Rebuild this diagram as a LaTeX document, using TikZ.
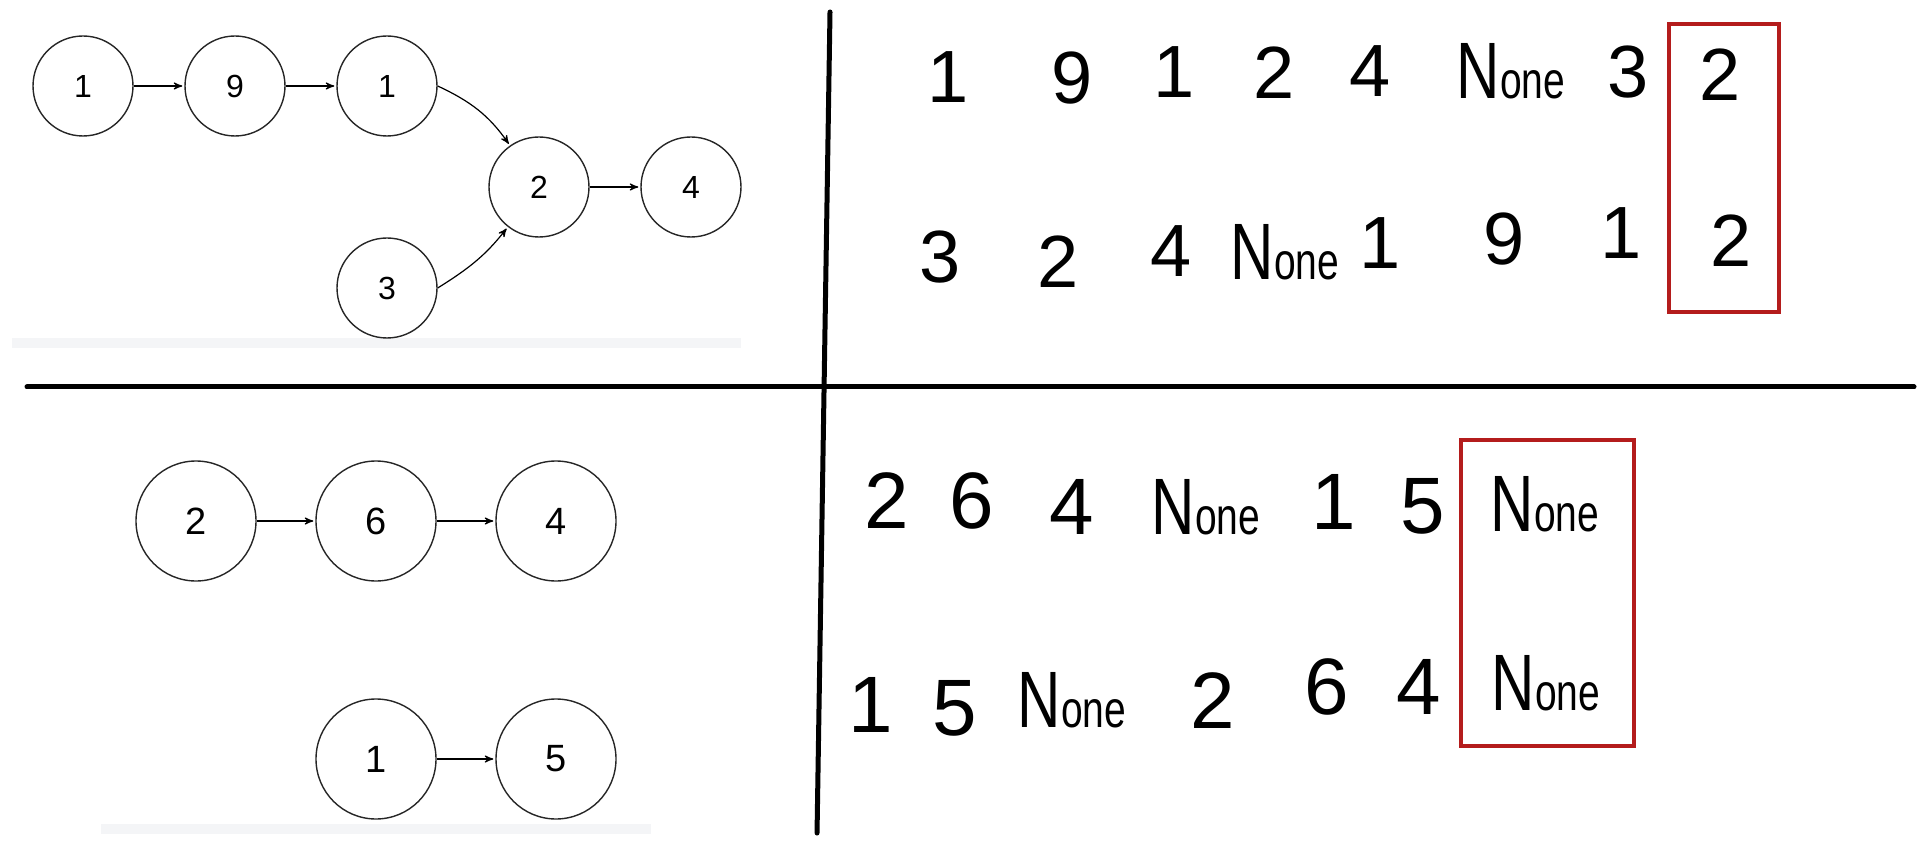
\documentclass[tikz,border=0pt]{standalone}
\usepackage{fontspec}
\setmainfont{Liberation Sans}
\usetikzlibrary{positioning, arrows}
\definecolor{boxred}{RGB}{180,28,28}
\definecolor{bargray}{RGB}{244,245,247}
\newcommand{\nonew}{\scalebox{0.75}[1]{\fontsize{40}{40}\selectfont N\fontsize{26}{26}\selectfont one}}

\begin{document}
\begin{tikzpicture}[->,>=stealth',shorten >=1pt, x=0.5pt, y=0.5pt,
                  node distance=76pt, on grid, semithick,
                  elem/.style={circle, draw=black!85, line width=0.7pt,
                    minimum size=50pt, inner sep=0pt,
                    font=\fontsize{16}{16}\selectfont},
                  bigelem/.style={elem, minimum size=60pt,
                    font=\fontsize{19}{19}\selectfont},
                  hand/.style={inner sep=0pt, font=\fontsize{40}{40}\selectfont},
                  handtop/.style={hand, font=\fontsize{37}{37}\selectfont},
                  greybar/.style={-, fill=bargray, draw=none},
                  divider/.style={-, line width=2.5pt, line cap=round},
                  pick/.style={-, draw=boxred, line width=2pt}]

                  \useasboundingbox (0,0) rectangle (1926,-844);

                  % Franjas grises bajo cada lista.
                  \fill[greybar] (12,-338) rectangle (741,-348);
                  \fill[greybar] (101,-824) rectangle (651,-834);

                  % Listas que se cruzan en el 2.
                  \node[elem] (a1) at (83,-86) {1};
                  \node[elem, right=of a1] (a2) {9};
                  \node[elem, right=of a2] (a3) {1};
                  \node[elem, below right=50.5pt and 76pt of a3] (a4) {2};
                  \node[elem, right=of a4] (a5) {4};
                  \node[elem, below=101pt of a3] (a6) {3};

                  \draw (a1) edge (a2)
                  (a2) edge (a3)
                  (a4) edge (a5);
                  \draw (a3.east) to[out=-25, in=125] (a4);
                  \draw (a6.east) to[out=32, in=-128] (a4);

                  % Listas que no se cruzan.
                  \node[bigelem] (b1) at (196,-521) {2};
                  \node[bigelem, right=90pt of b1] (b2) {6};
                  \node[bigelem, right=90pt of b2] (b3) {4};
                  \node[bigelem, below=119pt of b2] (b4) {1};
                  \node[bigelem, right=90pt of b4] (b5) {5};

                  \draw (b1) edge (b2)
                  (b2) edge (b3)
                  (b4) edge (b5);

                  % Lineas divisorias.
                  \draw[divider] (27,-387) -- (1916,-387);
                  \draw[divider] (830,-12) -- (817,-835);

                  % Recorridos del primer caso.
                  \node[handtop] (p1) at (948,-77) {1};
                  \node[handtop] (p2) at (1072,-78) {9};
                  \node[handtop] (p3) at (1174,-72) {1};
                  \node[handtop] (p4) at (1274,-73) {2};
                  \node[handtop] (p5) at (1370,-71) {4};
                  \node[handtop] (p6) at (1511,-71) {\nonew};
                  \node[handtop] (p7) at (1628,-72) {3};
                  \node[handtop] (p8) at (1720,-75) {2};

                  \node[handtop] (q1) at (940,-257) {3};
                  \node[handtop] (q2) at (1058,-262) {2};
                  \node[handtop] (q3) at (1171,-251) {4};
                  \node[handtop] (q4) at (1285,-252) {\nonew};
                  \node[handtop] (q5) at (1380,-243) {1};
                  \node[handtop] (q6) at (1504,-239) {9};
                  \node[handtop] (q7) at (1621,-233) {1};
                  \node[handtop] (q8) at (1731,-241) {2};

                  \draw[pick] (1669,-24) rectangle (1779,-312);

                  % Recorridos del segundo caso.
                  \node[hand] (r1) at (887,-501) {2};
                  \node[hand] (r2) at (972,-501) {6};
                  \node[hand] (r3) at (1072,-507) {4};
                  \node[hand] (r4) at (1206,-507) {\nonew};
                  \node[hand] (r5) at (1334,-502) {1};
                  \node[hand] (r6) at (1423,-506) {5};
                  \node[hand] (r7) at (1545,-504) {\nonew};

                  \node[hand] (s1) at (871,-705) {1};
                  \node[hand] (s2) at (955,-708) {5};
                  \node[hand] (s3) at (1072,-700) {\nonew};
                  \node[hand] (s4) at (1213,-701) {2};
                  \node[hand] (s5) at (1327,-687) {6};
                  \node[hand] (s6) at (1419,-687) {4};
                  \node[hand] (s7) at (1546,-683) {\nonew};

                  \draw[pick] (1461,-440) rectangle (1634,-746);

                \end{tikzpicture}
\end{document}
